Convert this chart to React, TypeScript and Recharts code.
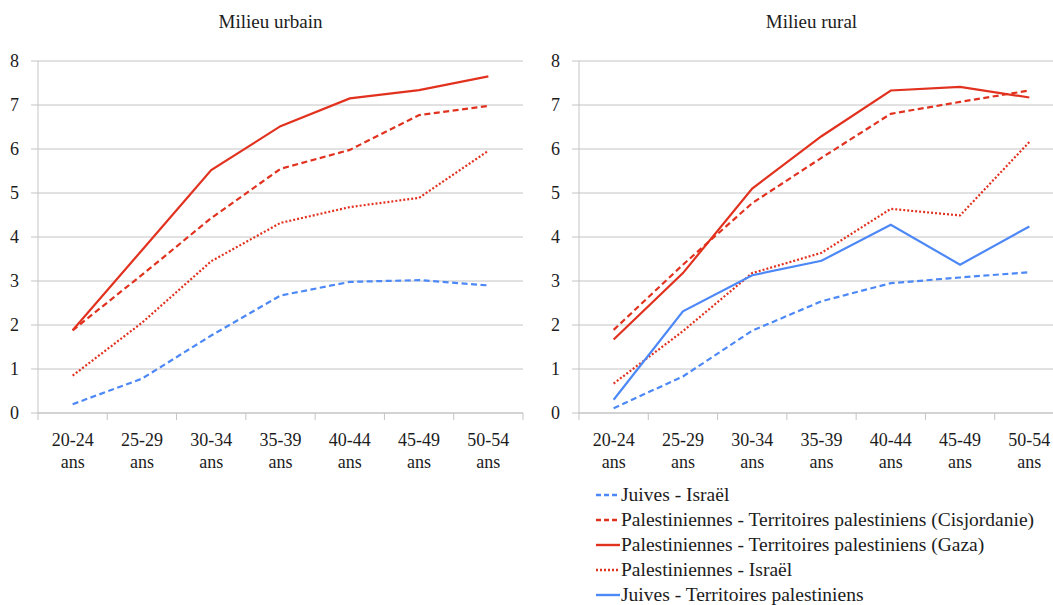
import React from 'react';
import { LineChart, Line, XAxis, YAxis, CartesianGrid } from 'recharts';

const AGE_GROUPS = ['20-24', '25-29', '30-34', '35-39', '40-44', '45-49', '50-54'];
const AGE_SUFFIX = 'ans';
const Y_TICKS = [0, 1, 2, 3, 4, 5, 6, 7, 8];
const PANEL_TITLES = ['Milieu urbain', 'Milieu rural'];

// Milieu urbain
const urbanJuivesIsrael = [0.2, 0.78, 1.76, 2.67, 2.98, 3.02, 2.9];
const urbanCisjordanie = [1.88, 3.14, 4.43, 5.55, 5.98, 6.77, 6.98];
const urbanGaza = [1.88, 3.7, 5.52, 6.52, 7.15, 7.34, 7.65];
const urbanPalIsrael = [0.85, 2.05, 3.45, 4.32, 4.68, 4.89, 5.96];
const urbanJuivesTerritoires: (number | null)[] = [null, null, null, null, null, null, null];

// Milieu rural
const ruralJuivesIsrael = [0.11, 0.83, 1.87, 2.54, 2.95, 3.08, 3.2];
const ruralCisjordanie = [1.89, 3.37, 4.77, 5.8, 6.8, 7.07, 7.33];
const ruralGaza = [1.67, 3.18, 5.1, 6.29, 7.33, 7.41, 7.17];
const ruralPalIsrael = [0.67, 1.86, 3.18, 3.64, 4.64, 4.49, 6.16];
const ruralJuivesTerritoires = [0.3, 2.31, 3.13, 3.46, 4.28, 3.37, 4.24];

const RED = '#e1321f';
const BLUE = '#4d88f7';
const FONT = 'Liberation Serif';
const TEXT = '#1c1c1c';
const GRID = '#c4c4c4';

const SERIES = [
  { key: 'jI', name: 'Juives - Israël', color: BLUE, dash: '6 3.5' },
  { key: 'pC', name: 'Palestiniennes - Territoires palestiniens (Cisjordanie)', color: RED, dash: '6 3.5' },
  { key: 'pG', name: 'Palestiniennes - Territoires palestiniens (Gaza)', color: RED, dash: undefined },
  { key: 'pI', name: 'Palestiniennes - Israël', color: RED, dash: '2 2' },
  { key: 'jT', name: 'Juives - Territoires palestiniens', color: BLUE, dash: undefined },
];

const buildRows = (jI: any[], pC: any[], pG: any[], pI: any[], jT: any[]) =>
  AGE_GROUPS.map((g, i) => ({ x: i + 0.5, group: g, jI: jI[i], pC: pC[i], pG: pG[i], pI: pI[i], jT: jT[i] }));

const urbanRows = buildRows(urbanJuivesIsrael, urbanCisjordanie, urbanGaza, urbanPalIsrael, urbanJuivesTerritoires);
const ruralRows = buildRows(ruralJuivesIsrael, ruralCisjordanie, ruralGaza, ruralPalIsrael, ruralJuivesTerritoires);

const PLOT_W = 485;

const XTick = (props: any) => {
  const { x, y, payload, width } = props;
  const idx = payload.value;
  if (idx >= AGE_GROUPS.length) return null;
  const w = typeof width === 'number' && width > 0 ? width : PLOT_W;
  const cx = x + w / AGE_GROUPS.length / 2;
  return (
    <text x={cx} y={y} textAnchor="middle" fontFamily={FONT} fontSize={18} fill={TEXT}>
      <tspan x={cx} dy={26}>{AGE_GROUPS[idx]}</tspan>
      <tspan x={cx} dy={21.5}>{AGE_SUFFIX}</tspan>
    </text>
  );
};

const Panel = ({ rows, title, left, yWidth }: any) => (
  <div style={{ position: 'absolute', left, top: 0 }}>
    <LineChart width={yWidth + PLOT_W + 8} height={480} data={rows} margin={{ top: 61, right: 8, left: 0, bottom: 0 }}>
      <text x={yWidth + PLOT_W / 2 - 10} y={28} textAnchor="middle" fontFamily={FONT} fontSize={19} fill={TEXT}>
        {title}
      </text>
      <CartesianGrid vertical={false} stroke={GRID} strokeWidth={1} />
      <XAxis
        dataKey="x"
        type="number"
        domain={[0, AGE_GROUPS.length]}
        ticks={AGE_GROUPS.map((_, i) => i).concat([AGE_GROUPS.length])}
        interval={0}
        height={67}
        tickSize={7}
        tickMargin={0}
        axisLine={{ stroke: GRID }}
        tickLine={{ stroke: GRID }}
        tick={<XTick />}
      />
      <YAxis
        type="number"
        domain={[0, 8]}
        ticks={Y_TICKS}
        interval={0}
        width={yWidth}
        tickSize={7}
        tickMargin={12}
        axisLine={{ stroke: GRID }}
        tickLine={{ stroke: GRID }}
        tick={{ fill: TEXT, fontFamily: FONT, fontSize: 18 }}
      />
      {SERIES.map((s) => (
        <Line
          key={s.key}
          dataKey={s.key}
          name={s.name}
          stroke={s.color}
          strokeWidth={2.2}
          strokeDasharray={s.dash}
          dot={false}
          activeDot={false}
          connectNulls={false}
          isAnimationActive={false}
          type="linear"
        />
      ))}
    </LineChart>
  </div>
);

const LegendBox = () => (
  <div style={{ position: 'absolute', left: 596, top: 482, fontFamily: FONT, fontSize: 19.5, color: TEXT }}>
    {SERIES.map((s) => (
      <div key={s.key} style={{ display: 'flex', alignItems: 'center', height: 25, whiteSpace: 'nowrap' }}>
        <svg width={25} height={10} style={{ display: 'block' }}>
          <line x1={0} x2={24} y1={5} y2={5} stroke={s.color} strokeWidth={2.4} strokeDasharray={s.dash ? (s.dash === '2 2' ? '2 2' : '5 3') : undefined} />
        </svg>
        <span>{s.name}</span>
      </div>
    ))}
  </div>
);

export default function App() {
  return (
    <div style={{ position: 'absolute', left: 0, top: 0, width: 1053, height: 605, overflow: 'hidden', background: '#fff' }}>
      <Panel rows={urbanRows} title={PANEL_TITLES[0]} left={0} yWidth={38} />
      <Panel rows={ruralRows} title={PANEL_TITLES[1]} left={540} yWidth={39} />
      <LegendBox />
    </div>
  );
}
